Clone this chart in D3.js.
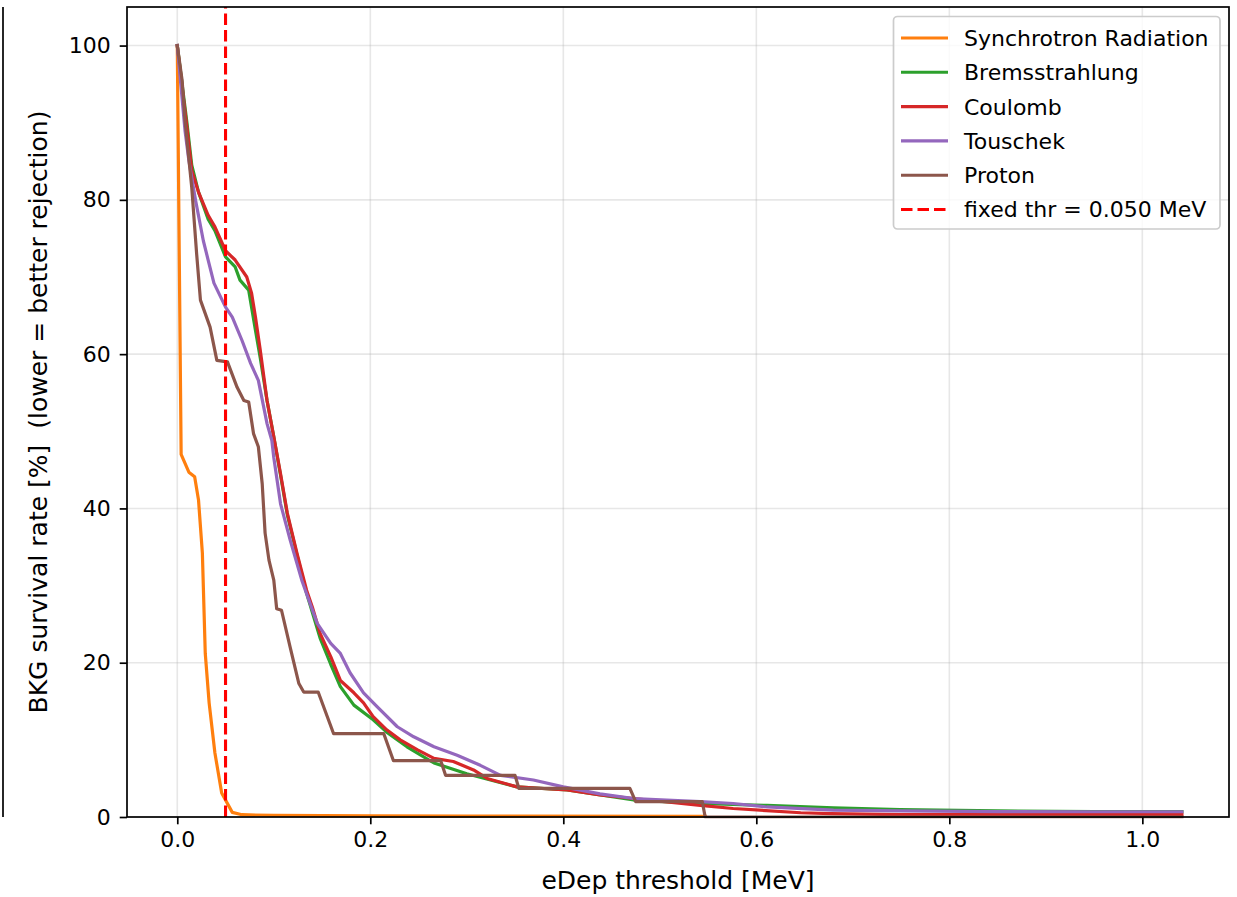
<!DOCTYPE html>
<html><head><meta charset="utf-8">
<script src="https://cdn.jsdelivr.net/npm/d3@7"></script>
<style>body{margin:0;background:#fff;}svg{display:block;}text{white-space:pre;}</style>
</head><body>
<svg id="chart" width="1237" height="897"></svg>
<script>
// ---- data ----
const xTicks = [0.0, 0.2, 0.4, 0.6, 0.8, 1.0];
const yTicks = [0, 20, 40, 60, 80, 100];
const xLabel = "eDep threshold [MeV]";
const yLabel = "BKG survival rate [%]  (lower = better rejection)";
const seriesNames = ["Synchrotron Radiation", "Bremsstrahlung", "Coulomb", "Touschek", "Proton"];
const thrLabel = "fixed thr = 0.050 MeV";
const thrValue = 0.050;

const synX = [0, 0.004, 0.012, 0.018, 0.022, 0.026, 0.029, 0.033, 0.039, 0.046, 0.057, 0.067, 0.10, 0.2, 0.3, 0.547];
const synY = [100, 47, 44.7, 44.1, 41.1, 34.2, 21.2, 14.8, 8.3, 3.1, 0.6, 0.3, 0.2, 0.15, 0.12, 0.1];

const bremX = [0, 0.010, 0.015, 0.022, 0.032, 0.039, 0.050, 0.060, 0.065, 0.074, 0.081, 0.086, 0.093, 0.100, 0.107, 0.114, 0.124, 0.134, 0.148, 0.159, 0.169, 0.183, 0.203, 0.217, 0.238, 0.266, 0.300, 0.352, 0.404, 0.473, 0.542, 0.611, 0.680, 0.749, 0.85, 0.95, 1.041];
const bremY = [100, 90.0, 84.5, 81.0, 77.5, 76.0, 72.6, 71.3, 69.6, 68.3, 63.1, 59.5, 54, 49.3, 44.3, 39.2, 34.0, 29.0, 23.2, 19.8, 16.9, 14.5, 12.6, 11.0, 9.1, 7.0, 5.6, 3.9, 3.5, 2.2, 1.75, 1.5, 1.2, 0.97, 0.8, 0.7, 0.7];

const coulX = [0, 0.010, 0.015, 0.022, 0.032, 0.039, 0.050, 0.060, 0.072, 0.077, 0.081, 0.086, 0.093, 0.100, 0.107, 0.114, 0.124, 0.134, 0.140, 0.148, 0.159, 0.169, 0.183, 0.193, 0.203, 0.217, 0.231, 0.249, 0.266, 0.286, 0.307, 0.321, 0.352, 0.404, 0.438, 0.473, 0.542, 0.576, 0.646, 0.677, 0.749, 0.85, 0.95, 1.041];
const coulY = [100, 89.4, 83.8, 81.0, 78.0, 76.5, 73.4, 72.2, 70.0, 67.9, 64.8, 60.5, 54, 49.3, 44.5, 39.4, 34.2, 29.4, 27.2, 23.8, 20.8, 17.7, 16.1, 14.8, 13.0, 11.3, 10.0, 8.7, 7.6, 7.2, 6.1, 5.0, 3.9, 3.5, 2.85, 2.4, 1.5, 1.1, 0.55, 0.45, 0.3, 0.3, 0.3, 0.3];

const tousX = [0, 0.008, 0.012, 0.019, 0.027, 0.032, 0.038, 0.050, 0.057, 0.067, 0.076, 0.084, 0.093, 0.098, 0.100, 0.107, 0.117, 0.129, 0.145, 0.159, 0.169, 0.179, 0.193, 0.207, 0.228, 0.245, 0.266, 0.290, 0.314, 0.335, 0.369, 0.400, 0.438, 0.473, 0.507, 0.542, 0.576, 0.611, 0.680, 0.749, 0.85, 0.95, 1.041];
const tousY = [100, 89, 85.1, 79.9, 74.7, 72.2, 69.2, 66.1, 64.8, 61.8, 58.8, 56.6, 51, 48.8, 46.6, 40.6, 35.9, 30.7, 25.1, 22.5, 21.2, 18.7, 16.1, 14.3, 11.7, 10.4, 9.1, 8.0, 6.7, 5.4, 4.8, 3.9, 3.0, 2.4, 2.2, 2.0, 1.75, 1.3, 0.9, 0.8, 0.7, 0.68, 0.68];

const protX = [0, 0.005, 0.008, 0.015, 0.020, 0.024, 0.034, 0.041, 0.052, 0.062, 0.069, 0.074, 0.079, 0.084, 0.088, 0.091, 0.095, 0.100, 0.103, 0.108, 0.117, 0.126, 0.131, 0.146, 0.162, 0.214, 0.224, 0.273, 0.278, 0.350, 0.354, 0.469, 0.475, 0.544, 0.547, 1.041];
const protY = [100, 95.5, 90.3, 81.6, 73.1, 67, 63.5, 59.2, 59.0, 55.7, 54, 53.8, 49.7, 48.0, 43.2, 36.8, 33.3, 30.7, 27, 26.8, 22, 17.3, 16.2, 16.2, 10.8, 10.8, 7.3, 7.3, 5.4, 5.4, 3.7, 3.7, 2.0, 2.0, 0, 0];

const colors = ["#ff7f0e", "#2ca02c", "#d62728", "#9467bd", "#8c564b"];
const thrColor = "#ff0000";

// ---- layout ----
const L = 127, R = 1229, T = 7, B = 817;
const FONT = "DejaVu Sans, Liberation Sans, sans-serif";
const svg = d3.select("#chart");

const x = d3.scaleLinear().domain([-0.0521, 1.0898]).range([L, R]);
const y = d3.scaleLinear().domain([0, 105]).range([B, T]);

// left neighbour subplot edge
svg.append("line").attr("x1", 3).attr("x2", 3).attr("y1", T).attr("y2", B)
  .attr("stroke", "#000").attr("stroke-width", 1.7);

// grid
const grid = svg.append("g");
grid.selectAll(".gx").data(xTicks).join("line")
  .attr("x1", d => x(d)).attr("x2", d => x(d)).attr("y1", T).attr("y2", B)
  .attr("stroke", "#b0b0b0").attr("stroke-opacity", 0.3).attr("stroke-width", 1.6);
grid.selectAll(".gy").data(yTicks).join("line")
  .attr("x1", L).attr("x2", R).attr("y1", d => y(d)).attr("y2", d => y(d))
  .attr("stroke", "#b0b0b0").attr("stroke-opacity", 0.3).attr("stroke-width", 1.6);

// clip
svg.append("defs").append("clipPath").attr("id", "clip")
  .append("rect").attr("x", L).attr("y", T).attr("width", R - L).attr("height", B - T + 1.5);

const plot = svg.append("g").attr("clip-path", "url(#clip)");
const line = d3.line().x(d => x(d[0])).y(d => y(d[1]));
const series = [[synX, synY], [bremX, bremY], [coulX, coulY], [tousX, tousY], [protX, protY]];
series.forEach((s, i) => {
  const pts = s[0].map((v, k) => [v, s[1][k]]);
  plot.append("path").attr("d", line(pts)).attr("fill", "none")
    .attr("stroke", colors[i]).attr("stroke-width", 3.2)
    .attr("stroke-linejoin", "round").attr("stroke-linecap", "square");
});
plot.append("line").attr("x1", x(thrValue)).attr("x2", x(thrValue)).attr("y1", B).attr("y2", T)
  .attr("stroke", thrColor).attr("stroke-width", 3.1).attr("stroke-dasharray", "11.5,5");

// axes
const xAxis = d3.axisBottom(x).tickValues(xTicks).tickFormat(d3.format(".1f")).tickSizeInner(7.3).tickSizeOuter(0).tickPadding(7);
const yAxis = d3.axisLeft(y).tickValues(yTicks).tickFormat(d3.format("d")).tickSizeInner(7.3).tickSizeOuter(0).tickPadding(9);
const gx = svg.append("g").attr("transform", `translate(0,${B})`).call(xAxis);
const gy = svg.append("g").attr("transform", `translate(${L},0)`).call(yAxis);
[gx, gy].forEach(g => {
  g.select(".domain").remove();
  g.selectAll(".tick line").attr("stroke", "#000").attr("stroke-width", 1.7);
  g.selectAll(".tick text").attr("font-family", FONT).attr("font-size", 22).attr("fill", "#000");
});

// frame
svg.append("rect").attr("x", L).attr("y", T).attr("width", R - L).attr("height", B - T)
  .attr("fill", "none").attr("stroke", "#000").attr("stroke-width", 1.7);

// labels
svg.append("text").attr("x", (L + R) / 2).attr("y", 889).attr("text-anchor", "middle")
  .attr("font-family", FONT).attr("font-size", 25).text(xLabel);
svg.append("text").attr("transform", `translate(47,${(T + B) / 2}) rotate(-90)`).attr("text-anchor", "middle")
  .attr("font-family", FONT).attr("font-size", 25).attr("xml:space", "preserve").text(yLabel);

// legend
const lg = svg.append("g");
lg.append("rect").attr("x", 893.5).attr("y", 16.5).attr("width", 326.5).attr("height", 212.5).attr("rx", 4)
  .attr("fill", "#fff").attr("fill-opacity", 0.8).attr("stroke", "#cccccc").attr("stroke-width", 1.7);
const entries = seriesNames.map((n, i) => ({name: n, color: colors[i], dash: null}))
  .concat([{name: thrLabel, color: thrColor, dash: "11.5,5"}]);
entries.forEach((e, i) => {
  const yy = 38 + i * 34.3;
  lg.append("line").attr("x1", 901).attr("x2", 948).attr("y1", yy).attr("y2", yy)
    .attr("stroke", e.color).attr("stroke-width", 3.1).attr("stroke-dasharray", e.dash);
  lg.append("text").attr("x", 964).attr("y", yy).attr("dy", "0.36em")
    .attr("font-family", FONT).attr("font-size", 22).attr("fill", "#000").text(e.name);
});
</script>
</body></html>
